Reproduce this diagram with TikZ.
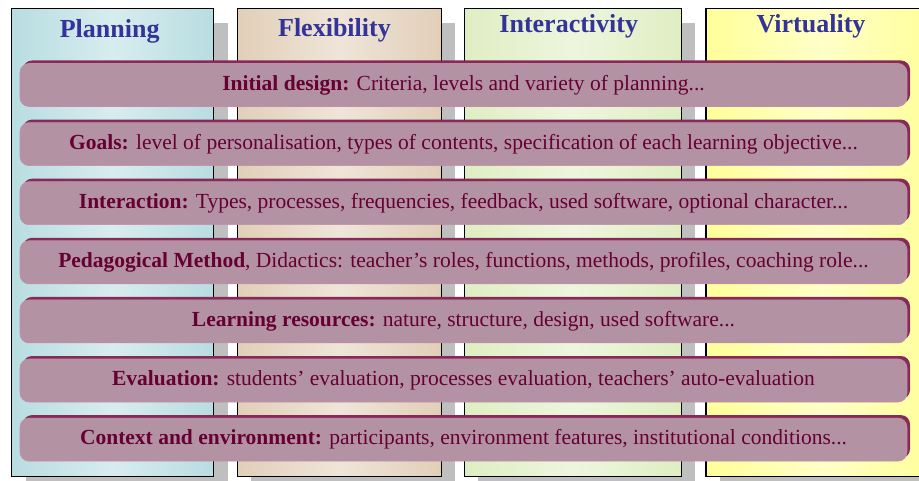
\documentclass[tikz,border=0pt]{standalone}
\usepackage{fontspec}
\setmainfont{Liberation Serif}
\usetikzlibrary{positioning,shadows}
\definecolor{planfill}{HTML}{B8DDE1}
\definecolor{flexfill}{HTML}{E1CFB8}
\definecolor{interfill}{HTML}{DFEEC2}
\definecolor{virtfill}{HTML}{FFFF99}
\definecolor{colshade}{HTML}{BFBFBF}
\definecolor{headtext}{HTML}{333399}
\definecolor{barfill}{HTML}{B393A3}
\definecolor{barline}{HTML}{C48CAA}
\definecolor{barshade}{HTML}{862A58}
\definecolor{bartext}{HTML}{660033}

\begin{document}
\begin{tikzpicture}[x=1pt, y=1pt,
    node distance=15.5pt and 22.5pt,
    col/.style={draw, line width=1.3pt, minimum height=468pt, inner sep=0pt,
      left color=#1, right color=#1, middle color=#1!55!white,
      general shadow={fill=colshade, shadow xshift=14pt, shadow yshift=-14pt}},
    head/.style={anchor=base, text=headtext, font=\fontsize{26}{30}\selectfont\bfseries},
    bar/.style={rounded corners=9pt, fill=barfill, draw=barline, line width=0.6pt,
      minimum width=887pt, minimum height=43pt, inner sep=0pt, text=bartext,
      font=\fontsize{21.5}{24}\selectfont,
      general shadow={fill=barshade, shadow xshift=3pt, shadow yshift=3pt}}]
    \useasboundingbox (0,0) rectangle (919,-481);
    \clip (0,0) rectangle (919,-481);
    % the four columns
    \node[col=planfill, minimum width=202pt, anchor=north west] (plan) at (11,-8) {};
    \node[col=flexfill, minimum width=204pt, right=22.5pt of plan] (flex) {};
    \node[col=interfill, minimum width=217pt, right=21.5pt of flex] (inter) {};
    \node[col=virtfill, minimum width=230pt, right=23.5pt of inter] (virt) {};
    \node[head] at ([xshift=-3pt, yshift=-30pt]plan.north) {Planning};
    \node[head] at ([xshift=-5pt, yshift=-29pt]flex.north) {Flexibility};
    \node[head] at ([xshift=-4pt, yshift=-25pt]inter.north) {Interactivity};
    \node[head] at ([xshift=-10pt, yshift=-25pt]virt.north) {Virtuality};
    % the dimensions across them
    \node[bar] (design) at (463.5,-85) {\textbf{Initial design:} Criteria, levels and variety of planning...};
    \node[bar, below=of design] (goals) {\textbf{Goals:} level of personalisation, types of contents, specification of each learning objective...};
    \node[bar, below=of goals] (interact) {\textbf{Interaction:} Types, processes, frequencies, feedback, used software, optional character...};
    \node[bar, below=of interact] (method) {\textbf{Pedagogical Method}, Didactics: teacher's roles, functions, methods, profiles, coaching role...};
    \node[bar, below=of method] (resources) {\textbf{Learning resources:} nature, structure, design, used software...};
    \node[bar, below=of resources] (evaluation) {\textbf{Evaluation:} students' evaluation, processes evaluation, teachers' auto-evaluation};
    \node[bar, below=of evaluation] (context) {\textbf{Context and environment:} participants, environment features, institutional conditions...};
\end{tikzpicture}
\end{document}
